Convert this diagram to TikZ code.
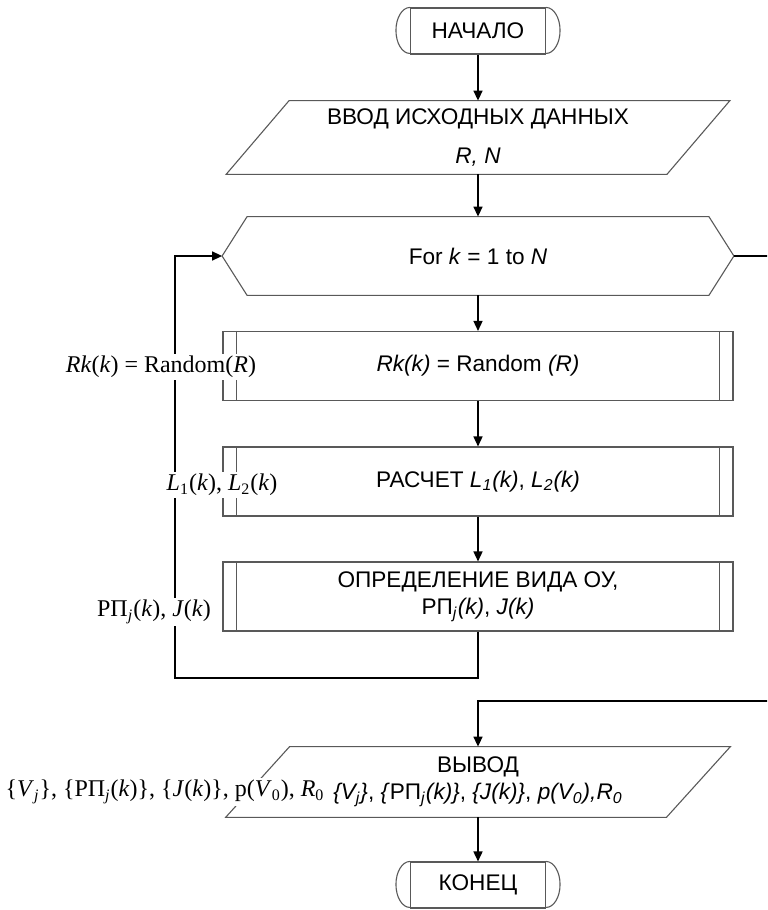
\documentclass[tikz,border=0pt]{standalone}
\usepackage{fontspec}
\setmainfont{Liberation Serif}
\setsansfont{Liberation Sans}
\usetikzlibrary{arrows.meta}

\begin{document}
\begin{tikzpicture}[x=0.5pt, y=-0.5pt,
    outline/.style={draw=black!65, line width=0.55pt},
    block/.style={inner sep=0pt, align=center, font=\sffamily\fontsize{11.3}{13.5}\selectfont},
    termbox/.style={block, outline, minimum width=67.5pt, minimum height=23pt},
    iobox/.style={block, minimum width=220pt},
    loopbox/.style={block, minimum width=255.5pt, minimum height=39pt},
    procbox/.style={block, outline, minimum width=255pt, minimum height=34.5pt},
    note/.style={fill=white, inner sep=1pt, font=\fontsize{12}{14}\selectfont},
    wire/.style={line width=0.75pt},
    conn/.style={wire, -{Triangle[length=5pt, width=4.5pt]}}]
    \useasboundingbox (0,0) rectangle (767,910);
    \clip (0,0) rectangle (767,910);

    % blocks
    \node[termbox] (start) at (478,31) {НАЧАЛО};
    \node[iobox, minimum height=36.5pt] (inp) at (478,137.5)
        {ВВОД ИСХОДНЫХ ДАННЫХ\\[6pt]\textit{R, N}};
    \node[loopbox] (loop) at (478,256) {For \textit{k} = 1 to \textit{N}};
    \node[procbox] (rnd) at (478,366) {\textit{Rk(k)} = Random \textit{(R)}};
    \node[procbox] (calc) at (478,481.5)
        {РАСЧЕТ \textit{L\textsubscript{1}(k)}, \textit{L\textsubscript{2}(k)}};
    \node[procbox] (kind) at (478,596.5)
        {ОПРЕДЕЛЕНИЕ ВИДА ОУ,\\РП\textsubscript{\textit{j}}\textit{(k)}, \textit{J(k)}};
    \node[iobox, minimum height=35pt] (out) at (478,782)
        {ВЫВОД\\\textit{\{V\textsubscript{j}\}}, \textit{\{}РП\textsubscript{\textit{j}}\textit{(k)\}}, \textit{\{J(k)\}}, \textit{p(V\textsubscript{0}),R\textsubscript{0}}};
    \node[termbox] (stop) at (478,885) {КОНЕЦ};

    % outlines
    \foreach \t in {start,stop} {
        \draw[outline] (\t.north west) arc[start angle=90, end angle=270, x radius=7pt, y radius=11.5pt];
        \draw[outline] (\t.north east) arc[start angle=90, end angle=-90, x radius=7pt, y radius=11.5pt];
    }
    \draw[outline] ([xshift=15.75pt]inp.north west) -- ([xshift=15.75pt]inp.north east)
        -- ([xshift=-15.75pt]inp.south east) -- ([xshift=-15.75pt]inp.south west) -- cycle;
    \draw[outline] ([xshift=16pt]out.north west) -- ([xshift=16pt]out.north east)
        -- ([xshift=-16pt]out.south east) -- ([xshift=-16pt]out.south west) -- cycle;
    \draw[outline] (loop.west) -- ([xshift=12.5pt]loop.north west) -- ([xshift=-12.5pt]loop.north east)
        -- (loop.east) -- ([xshift=-12.5pt]loop.south east) -- ([xshift=12.5pt]loop.south west) -- cycle;
    \foreach \b in {rnd,calc,kind} {
        \draw[outline] ([xshift=7pt]\b.north west) -- ([xshift=7pt]\b.south west);
        \draw[outline] ([xshift=-7pt]\b.north east) -- ([xshift=-7pt]\b.south east);
    }

    % connectors
    \coordinate (back) at (175,678);
    \coordinate (exit) at (790,701);
    \draw[conn] (start) -- (inp);
    \draw[conn] (inp) -- (loop);
    \draw[conn] (loop) -- (rnd);
    \draw[conn] (rnd) -- (calc);
    \draw[conn] (calc) -- (kind);
    \draw[conn] (kind.south) |- (back) |- (loop.west);
    \draw[conn] (loop.east) -| (exit) -| (out.north);
    \draw[conn] (out) -- (stop);

    % side labels
    \node[note] (lrnd) at (161,367) {\textit{Rk}(\textit{k}) = Random(\textit{R})};
    \node[note] (lcalc) at (222,485) {\textit{L}\textsubscript{1}(\textit{k}), \textit{L}\textsubscript{2}(\textit{k})};
    \node[note] (lkind) at (154,612) {РП\textsubscript{\textit{j}}(\textit{k}), \textit{J}(\textit{k})};
    \node[note] (lout) at (165,792)
        {\{\textit{V}\textsubscript{\textit{j}}\}, \{РП\textsubscript{\textit{j}}(\textit{k})\}, \{\textit{J}(\textit{k})\}, p(\textit{V}\textsubscript{0}), \textit{R}\textsubscript{0}};
\end{tikzpicture}
\end{document}
